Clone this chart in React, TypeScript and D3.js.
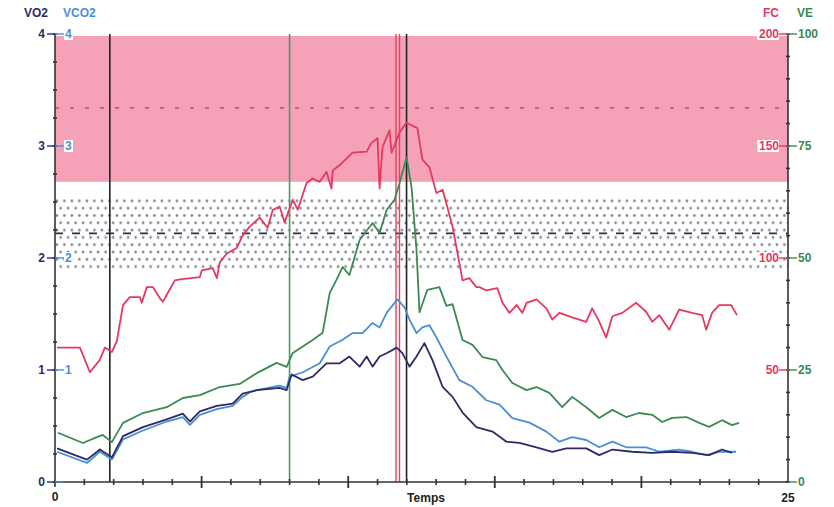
import React from "react";
import * as d3 from "d3";

// Exercise test recording: time in minutes
// VO2 / VCO2 in L/min (left axis), FC in bpm and VE in L/min (right axis)

const heartRate: [number, number][] = [
  [0.07, 60], [0.85, 60], [1.19, 49], [1.53, 54.5], [1.7, 60], [1.94, 58], [2.11, 63], [2.32, 79],
  [2.55, 82.5], [2.9, 82.5], [2.96, 80], [3.13, 87], [3.34, 87], [3.58, 82], [3.68, 80.5], [3.85, 84.5],
  [4.09, 90], [4.26, 90.5], [4.94, 91.5], [5.01, 94.5], [5.38, 95.5], [5.52, 91], [5.62, 98], [5.86, 102],
  [6.2, 104.5], [6.4, 110], [6.64, 114], [6.98, 118], [7.25, 113.5], [7.43, 121.5], [7.66, 123], [7.83, 116],
  [8.11, 126], [8.28, 121.5], [8.58, 133.5], [8.79, 135.5], [9.03, 134], [9.26, 138.5], [9.43, 131], [9.47, 139],
  [9.71, 141.5], [10.15, 147], [10.63, 147.5], [10.8, 151.5], [11.0, 153.5], [11.07, 131], [11.17, 149.5],
  [11.41, 157], [11.48, 147], [11.75, 156], [11.99, 160.5], [12.19, 159], [12.36, 158], [12.53, 144],
  [12.77, 140.5], [13.01, 129], [13.22, 130.5], [13.56, 114], [13.9, 90], [14.13, 91], [14.37, 87], [14.48, 87],
  [14.71, 85.5], [15.09, 86.5], [15.26, 80], [15.5, 75.5], [15.74, 79], [15.94, 75.5], [16.08, 80], [16.42, 81.5],
  [16.76, 77.5], [16.96, 72.5], [17.2, 75.5], [17.64, 73.5], [18.12, 71.5], [18.32, 77.5], [18.53, 72.5],
  [18.8, 64.5], [19.01, 74], [19.35, 75.5], [19.82, 80], [20.16, 76], [20.37, 71.5], [20.61, 74.5], [20.95, 68],
  [21.29, 77], [21.73, 75.5], [22.07, 74.5], [22.21, 68], [22.41, 75.5], [22.65, 79], [23.06, 79], [23.26, 74.5],
];

const ventilation: [number, number][] = [
  [0.1, 11], [0.95, 8.7], [1.43, 10], [1.63, 10.5], [1.94, 8.9], [2.32, 13.2], [3.0, 15.4], [3.81, 16.7],
  [4.36, 18.75], [4.94, 19.4], [5.62, 21.2], [6.3, 21.9], [6.88, 24.3], [7.56, 26.6], [7.9, 25.7], [8.11, 28.8],
  [8.79, 31.7], [9.13, 33.3], [9.37, 42.2], [9.6, 45.1], [9.81, 48], [10.04, 46.2], [10.39, 54], [10.83, 57.8],
  [11.07, 55.6], [11.31, 60.7], [11.58, 63], [11.75, 66.7], [11.99, 72.5], [12.16, 65.8], [12.33, 51.8],
  [12.43, 37.9], [12.7, 42.9], [13.11, 43.5], [13.35, 39.3], [13.56, 39.7], [13.9, 31.7], [14.24, 30.6],
  [14.58, 27.9], [15.05, 27.2], [15.26, 25], [15.6, 22.1], [16.08, 20.5], [16.42, 21.2], [16.86, 19.9],
  [17.3, 16.7], [17.64, 19], [18.12, 16.7], [18.56, 14.3], [19.01, 16.1], [19.48, 14.5], [19.92, 15.4],
  [20.37, 15], [20.71, 13.4], [21.05, 14.3], [21.53, 14.5], [21.97, 13.2], [22.31, 12.3], [22.75, 13.8],
  [23.09, 12.7], [23.33, 13.2],
];

const vco2: [number, number][] = [
  [0.07, 0.27], [1.09, 0.17], [1.53, 0.27], [1.94, 0.2], [2.32, 0.38], [3.0, 0.46], [3.81, 0.54], [4.36, 0.58],
  [4.6, 0.51], [4.94, 0.6], [5.52, 0.65], [6.06, 0.68], [6.4, 0.76], [6.64, 0.8], [6.88, 0.82], [7.66, 0.86],
  [7.9, 0.84], [8.0, 0.94], [8.45, 0.98], [9.03, 1.06], [9.37, 1.21], [9.81, 1.27], [10.15, 1.33], [10.49, 1.33],
  [10.83, 1.42], [11.07, 1.38], [11.31, 1.51], [11.68, 1.63], [11.92, 1.56], [12.09, 1.45], [12.33, 1.33],
  [12.53, 1.38], [12.77, 1.4], [13.01, 1.29], [13.35, 1.12], [13.79, 0.91], [14.24, 0.85], [14.71, 0.73],
  [15.16, 0.69], [15.6, 0.57], [16.18, 0.53], [16.76, 0.45], [17.2, 0.36], [17.64, 0.4], [18.12, 0.375],
  [18.56, 0.31], [19.01, 0.36], [19.48, 0.31], [20.16, 0.31], [20.61, 0.27], [21.29, 0.29], [21.73, 0.27],
  [22.21, 0.24], [22.65, 0.27], [23.23, 0.27],
];

const vo2: [number, number][] = [
  [0.07, 0.3], [1.09, 0.2], [1.53, 0.29], [1.94, 0.22], [2.32, 0.41], [3.0, 0.49], [3.81, 0.56], [4.36, 0.61],
  [4.6, 0.54], [4.94, 0.63], [5.52, 0.68], [6.06, 0.7], [6.4, 0.79], [6.88, 0.82], [7.66, 0.84], [7.9, 0.82],
  [8.07, 0.96], [8.45, 0.91], [8.79, 0.94], [9.26, 1.06], [9.71, 1.06], [10.04, 1.12], [10.39, 1.03],
  [10.63, 1.12], [10.83, 1.03], [11.07, 1.12], [11.31, 1.15], [11.65, 1.2], [11.85, 1.15], [12.09, 1.03],
  [12.33, 1.12], [12.6, 1.24], [12.87, 1.09], [13.22, 0.85], [13.56, 0.76], [13.9, 0.62], [14.37, 0.49],
  [14.92, 0.45], [15.4, 0.36], [15.84, 0.35], [16.42, 0.31], [16.96, 0.27], [17.44, 0.3], [18.12, 0.3],
  [18.56, 0.24], [19.01, 0.29], [19.69, 0.27], [20.37, 0.26], [21.05, 0.27], [21.73, 0.26], [22.31, 0.24],
  [22.75, 0.29], [23.09, 0.26],
];

// Event markers (minutes) and target zones
const markersBlack = [1.87, 11.99];
const markersGreen = [8.0];
const markersRed = [11.63, 11.75];
const fcZone = [134, 200];
const fcTarget = 167;
const vo2Zone = [1.875, 2.54];
const vo2Target = 2.22;

const leftTicks = [0, 1, 2, 3, 4];
const vcTicks = [1, 2, 3, 4];
const fcTicks = [50, 100, 150, 200];
const veTicks = [0, 25, 50, 75, 100];

const W = 834;
const H = 507;
const X0 = 55;
const X1 = 788;
const Y0 = 482;
const Y1 = 34;

const C = {
  vo2: "#2b2b66",
  vco2: "#4a8fd6",
  fc: "#e5395f",
  ve: "#3c8a52",
  band: "#f5a2b8",
  axis: "#333",
};

export default function App() {
  const x = d3.scaleLinear().domain([0, 25]).range([X0, X1]);
  const yL = d3.scaleLinear().domain([0, 4]).range([Y0, Y1]);
  const yFC = d3.scaleLinear().domain([0, 200]).range([Y0, Y1]);
  const yVE = d3.scaleLinear().domain([0, 100]).range([Y0, Y1]);

  const mk = (ys: d3.ScaleLinear<number, number>) =>
    d3.line<[number, number]>().x((d) => x(d[0])).y((d) => ys(d[1]));

  const minuteTicks = d3.range(1, 25);
  const leftMinor = d3.range(0, 4.001, 0.25);
  const rightMinor = d3.range(0, 100.001, 5);

  const font = "'Liberation Sans', Arial, sans-serif";

  return (
    <div style={{ position: "absolute", left: 0, top: 0 }}>
      <svg width={W} height={H} style={{ display: "block", background: "#fff" }} fontFamily={font}>
        <defs>
          <pattern id="dots" width={7.5} height={14.6} patternUnits="userSpaceOnUse" x={X0} y={yL(vo2Zone[1])}>
            <circle cx={1.9} cy={3.4} r={1.35} fill="#85858f" />
            <circle cx={5.65} cy={10.7} r={1.35} fill="#85858f" />
          </pattern>
        </defs>

        {/* heart-rate zone */}
        <rect x={X0} y={yFC(fcZone[1]) + 2} width={X1 - X0} height={yFC(fcZone[0]) - yFC(fcZone[1]) - 2} fill={C.band} />
        <line x1={X0} x2={X1} y1={yFC(fcTarget)} y2={yFC(fcTarget)} stroke="#c8334f" strokeWidth={1.4} strokeDasharray="4 11" />

        {/* VO2 zone */}
        <rect x={X0} y={yL(vo2Zone[1])} width={X1 - X0} height={yL(vo2Zone[0]) - yL(vo2Zone[1])} fill="url(#dots)" />
        <line x1={X0} x2={X1} y1={yL(vo2Target)} y2={yL(vo2Target)} stroke="#2b2b55" strokeWidth={1.8} strokeDasharray="8 9" />

        {/* event markers */}
        {markersBlack.map((t, i) => (
          <line key={"b" + i} x1={x(t)} x2={x(t)} y1={Y1} y2={Y0} stroke="#222" strokeWidth={1.6} />
        ))}
        {markersGreen.map((t, i) => (
          <line key={"g" + i} x1={x(t)} x2={x(t)} y1={Y1} y2={Y0} stroke="#4a9a62" strokeWidth={1.6} />
        ))}
        {markersRed.map((t, i) => (
          <line key={"r" + i} x1={x(t)} x2={x(t)} y1={Y1} y2={Y0} stroke="#e0445f" strokeWidth={1.4} />
        ))}

        {/* series */}
        <path d={mk(yVE)(ventilation) ?? ""} fill="none" stroke={C.ve} strokeWidth={1.8} strokeLinejoin="round" />
        <path d={mk(yFC)(heartRate) ?? ""} fill="none" stroke={C.fc} strokeWidth={1.8} strokeLinejoin="round" />
        <path d={mk(yL)(vco2) ?? ""} fill="none" stroke={C.vco2} strokeWidth={1.8} strokeLinejoin="round" />
        <path d={mk(yL)(vo2) ?? ""} fill="none" stroke={C.vo2} strokeWidth={1.8} strokeLinejoin="round" />

        {/* axes */}
        <line x1={X0} x2={X0} y1={Y1} y2={Y0 + 5} stroke={C.axis} strokeWidth={1.6} />
        <line x1={X1} x2={X1} y1={Y1} y2={Y0} stroke={C.axis} strokeWidth={1.6} />
        <line x1={X0} x2={X1} y1={Y0} y2={Y0} stroke={C.axis} strokeWidth={1.6} />

        {leftMinor.map((v, i) => (
          <line key={"lm" + i} x1={X0 - 2} x2={X0 + 2} y1={yL(v)} y2={yL(v)} stroke={C.axis} strokeWidth={1.6} />
        ))}
        {rightMinor.map((v, i) => (
          <line key={"rm" + i} x1={X1 - 2} x2={X1 + 2} y1={yVE(v)} y2={yVE(v)} stroke={C.axis} strokeWidth={1.6} />
        ))}
        {minuteTicks.map((m) => (
          <line
            key={"mt" + m}
            x1={x(m)}
            x2={x(m)}
            y1={Y0 - (m % 5 === 0 ? 6 : 3)}
            y2={Y0 + (m % 5 === 0 ? 6 : 3)}
            stroke={C.axis}
            strokeWidth={m % 5 === 0 ? 1.8 : 1.6}
          />
        ))}

        {/* left labels */}
        {leftTicks.map((v) => (
          <g key={"l" + v}>
            <line x1={X0 - 8} x2={X0} y1={yL(v)} y2={yL(v)} stroke={C.vo2} strokeWidth={1.4} />
            <text x={X0 - 10} y={yL(v) + 4} textAnchor="end" fontSize={12} fontWeight="bold" fill={C.vo2}>
              {v}
            </text>
          </g>
        ))}
        <line x1={X0} x2={X0 + 8} y1={yL(0)} y2={yL(0)} stroke={C.vco2} strokeWidth={1.4} />
        {vcTicks.map((v) => (
          <g key={"c" + v}>
            <rect x={X0 + 9} y={yL(v) - 6} width={9} height={12} fill="#fff" />
            <line x1={X0} x2={X0 + 9} y1={yL(v)} y2={yL(v)} stroke={C.vco2} strokeWidth={1.4} />
            <text x={X0 + 10} y={yL(v) + 4} fontSize={12} fontWeight="bold" fill={C.vco2}>
              {v}
            </text>
          </g>
        ))}
        <text x={24} y={17} fontSize={12} fontWeight="bold" fill={C.vo2}>VO2</text>
        <text x={63} y={17} fontSize={12} fontWeight="bold" fill={C.vco2}>VCO2</text>

        {/* right labels */}
        {fcTicks.map((v) => (
          <g key={"f" + v}>
            <rect x={X1 - 31} y={yFC(v) - 6} width={22} height={12} fill="#fff" />
            <line x1={X1 - 9} x2={X1} y1={yFC(v)} y2={yFC(v)} stroke={C.fc} strokeWidth={1.4} />
            <text x={X1 - 9} y={yFC(v) + 4} textAnchor="end" fontSize={12} fontWeight="bold" fill={C.fc}>
              {v}
            </text>
          </g>
        ))}
        {veTicks.map((v) => (
          <g key={"v" + v}>
            <line x1={X1} x2={X1 + 9} y1={yVE(v)} y2={yVE(v)} stroke={C.ve} strokeWidth={1.4} />
            <text x={X1 + 10} y={yVE(v) + 4} fontSize={12} fontWeight="bold" fill={C.ve}>
              {v}
            </text>
          </g>
        ))}
        <text x={763} y={17} fontSize={12} fontWeight="bold" fill={C.fc}>FC</text>
        <text x={797} y={17} fontSize={12} fontWeight="bold" fill={C.ve}>VE</text>

        {/* time labels */}
        <text x={X0} y={501} textAnchor="middle" fontSize={12} fontWeight="bold" fill="#222">0</text>
        <text x={426} y={502} textAnchor="middle" fontSize={12} fontWeight="bold" fill="#222">Temps</text>
        <text x={X1} y={502} textAnchor="middle" fontSize={12} fontWeight="bold" fill="#222">25</text>
      </svg>
    </div>
  );
}
